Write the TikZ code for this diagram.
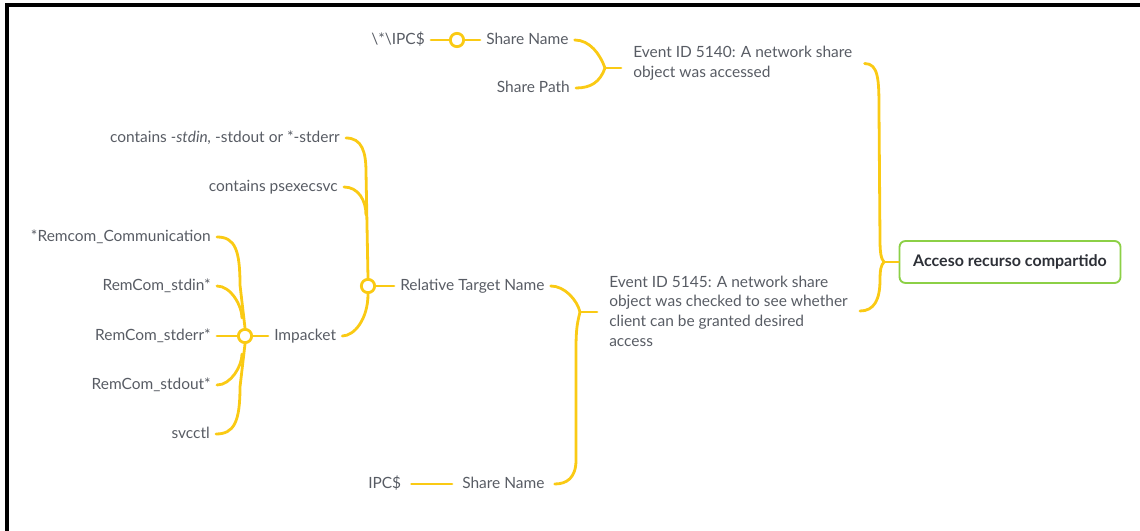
\documentclass[tikz,border=0pt]{standalone}
\usepackage{fontspec}
\setmainfont{Lato}
\definecolor{yel}{RGB}{250,202,20}
\definecolor{txt}{RGB}{88,92,100}
\definecolor{grn}{RGB}{140,208,70}
\begin{document}
\begin{tikzpicture}[x=0.75pt,y=-0.75pt,
  lbl/.style={font=\fontsize{11.6}{14.8}\selectfont, text=txt, inner xsep=4.5pt, inner ysep=0pt, text height=8.4pt, text depth=2.2pt},
  evt/.style={lbl, inner xsep=9pt, align=left, text height=, text depth=},
  br/.style={draw=yel, line width=2.1pt, line cap=round},
  knot/.style={circle, draw=yel, line width=2.1pt, fill=white, minimum size=10pt, inner sep=0pt},
  rootbox/.style={draw=grn, line width=1.4pt, rounded corners=4.5pt, fill=white,
    minimum width=165.75pt, minimum height=31.5pt, font=\fontsize{12}{14}\selectfont\bfseries, text={rgb,255:red,45;green,48;blue,55}}]
\useasboundingbox (0,0) rectangle (1140,531);
% frame
\draw[line width=2.4pt, black] (7,531) -- (7,5) -- (1140,5);

% nodes
\node[rootbox] (root) at (1010,262) {Acceso recurso compartido};
\node[evt, anchor=west] (ev40) at (621,63.5) {Event ID 5140: A network share\\object was accessed};
\node[evt, anchor=west] (ev45) at (597,311) {Event ID 5145: A network share\\object was checked to see whether\\client can be granted desired\\access};
\node[lbl, anchor=east] (ipc1) at (431,40) {\textbackslash*\textbackslash IPC\$};
\node[knot] (k1) at (457,40) {};
\node[lbl, anchor=west] (sn1) at (480,40) {Share Name};
\node[lbl, anchor=east] (sp1) at (576,88) {Share Path};
\node[lbl, anchor=west] (rtn) at (394,286) {Relative Target Name};
\node[knot] (k2) at (368,286) {};
\node[lbl, anchor=east] (c1) at (346,138) {contains \textit{-stdin,} -stdout or *-stderr};
\node[lbl, anchor=east] (c2) at (344,187) {contains psexecsvc};
\node[lbl, anchor=west] (imp) at (268,336) {Impacket};
\node[knot] (k3) at (245,336) {};
\node[lbl, anchor=east] (r1) at (217,237) {*Remcom\_Communication};
\node[lbl, anchor=east] (r2) at (217,286) {RemCom\_stdin*};
\node[lbl, anchor=east] (r3) at (217,336) {RemCom\_stderr*};
\node[lbl, anchor=east] (r4) at (217,385) {RemCom\_stdout*};
\node[lbl, anchor=east] (r5) at (216,434) {svcctl};
\node[lbl, anchor=west, inner xsep=7.5pt] (ipc2) at (358,484) {IPC\$};
\node[lbl, anchor=west, inner xsep=7.5pt] (sn2) at (452,484) {Share Name};

\coordinate (j40) at (605,68);
\coordinate (j45) at (580,312);
\coordinate (jr) at (884,262);

% connectors
\draw[br] (ipc1.east) -- (k1.west);
\draw[br] (k1.east) -- (sn1.west);
\draw[br] (sn1.east) .. controls +(15,0) and +(-5,-14) .. (j40);
\draw[br] (sp1.east) .. controls +(15,0) and +(-5,14) .. (j40);
\draw[br] (j40) -- (ev40.west |- j40);

\draw[br] (jr) -- (root.west);
\draw[br] (jr) .. controls +(-3,-3) and +(0,12) .. (880,240) -- (879,110) .. controls +(0,-30) and +(14,0) .. (ev40.east);
\draw[br] (jr) .. controls +(-3,3) and +(0,-10) .. (880,280) .. controls +(0,20) and +(14,0) .. (ev45.east);

\draw[br] (rtn.east) .. controls +(14,0) and +(-3,-12) .. (j45);
\draw[br] (j45) -- (ev45.west |- j45);
\draw[br] (j45) .. controls +(-3,12) and +(0,-20) .. (576,350) -- (576,460) .. controls +(0,18) and +(12,0) .. (sn2.east);
\draw[br] (ipc2.east) -- (sn2.west);

\draw[br] (k2.east) -- (rtn.west);
\draw[br] (c1.east) .. controls +(16,0) and +(0,-20) .. (366,172) -- (k2.north);
\draw[br] (c2.east) .. controls +(14,0) and +(0,-15) .. (366,215);
\draw[br] (k2.south) .. controls +(0,25) and +(12,0) .. (imp.east);

\draw[br] (k3.east) -- (imp.west);
\draw[br] (r3.east) -- (k3.west);
\draw[br] (r1.east) .. controls +(18,0) and +(0,-35) .. (240,285) -- (k3.north);
\draw[br] (r2.east) .. controls +(14,0) and +(0,-12) .. (242,318);
\draw[br] (r4.east) .. controls +(14,0) and +(0,12) .. (242,354);
\draw[br] (r5.east) .. controls +(18,0) and +(0,35) .. (240,387) -- (k3.south);
\end{tikzpicture}
\end{document}
